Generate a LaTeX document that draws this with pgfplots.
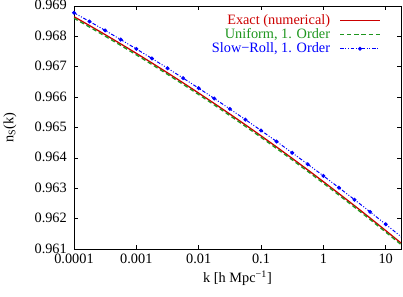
\documentclass[border=0pt]{standalone}
\usepackage{pgfplots}
\pgfplotsset{compat=1.18}
\usepackage{fontspec}
\setmainfont{Liberation Serif}
\definecolor{gpred}{RGB}{204,0,0}
\definecolor{gpgreen}{RGB}{30,150,30}
\definecolor{gpblue}{RGB}{0,0,255}
\begin{document}
\begin{tikzpicture}
\begin{axis}[
  name=ax,
  scale only axis,
  width=228.7pt, height=170pt,
  xmode=log, log basis x=10,
  xmin=1e-4, xmax=17.6,
  ymin=0.961, ymax=0.969,
  xtick={1e-4,1e-3,1e-2,1e-1,1,10},
  xticklabels={0.0001,0.001,0.01,0.1,1,10},
  ytick={0.961,0.962,0.963,0.964,0.965,0.966,0.967,0.968,0.969},
  yticklabels={0.961,0.962,0.963,0.964,0.965,0.966,0.967,0.968,0.969},
  tick align=inside,
  major tick length=3pt,
  minor tick length=1.6pt,
  tick style={black, line width=0.5pt},
  axis line style={line width=0.6pt},
  xticklabel style={yshift=0pt},
  yticklabel style={xshift=-1.5pt, yshift=0.5pt},
  xlabel={k [h Mpc\textsuperscript{\char"2212 1}]},
  ylabel={n\textsubscript{S}(k)},
  xlabel style={at={(axis description cs:0.5,-0.119)}, anchor=center},
  ylabel style={at={(axis description cs:-0.196,0.5)}, anchor=center},
  legend style={at={(axis description cs:1,1)}, anchor=north east,
    xshift=-11pt, yshift=-2pt, draw=none, fill=none,
    row sep=-1.5pt, nodes={inner sep=1.5pt},
    /tikz/every odd column/.append style={column sep=5pt}},
  legend cell align=right,
  legend plot pos=right,
  legend image code/.code={\draw[mark repeat=2,mark phase=2,#1] plot coordinates {(0pt,0pt)(14pt,0pt)(28pt,0pt)};},
]
\addplot[gpred, line width=0.9pt] coordinates {
(1e-4,0.968648) (1.7783e-4,0.968356) (3.1623e-4,0.968058) (5.6234e-4,0.967753)
(1e-3,0.967442) (1.7783e-3,0.967125) (3.1623e-3,0.966801) (5.6234e-3,0.966471)
(1e-2,0.966135) (1.7783e-2,0.965793) (3.1623e-2,0.965444) (5.6234e-2,0.965089)
(1e-1,0.964728) (1.7783e-1,0.964360) (3.1623e-1,0.963986) (5.6234e-1,0.963606)
(1,0.963219) (1.7783,0.962826) (3.1623,0.962427) (5.6234,0.962022)
(10,0.961610) (17.783,0.961192)
};
\addlegendentry{\textcolor{gpred}{Exact (numerical)}}
\addplot[gpgreen, line width=0.9pt, dash pattern=on 3pt off 2pt] coordinates {
(1e-4,0.968598) (1.7783e-4,0.968306) (3.1623e-4,0.968008) (5.6234e-4,0.967703)
(1e-3,0.967392) (1.7783e-3,0.967075) (3.1623e-3,0.966751) (5.6234e-3,0.966421)
(1e-2,0.966085) (1.7783e-2,0.965743) (3.1623e-2,0.965394) (5.6234e-2,0.965039)
(1e-1,0.964678) (1.7783e-1,0.964310) (3.1623e-1,0.963936) (5.6234e-1,0.963556)
(1,0.963169) (1.7783,0.962776) (3.1623,0.962377) (5.6234,0.961972)
(10,0.961560) (17.783,0.961142)
};
\addlegendentry{\textcolor{gpgreen}{Uniform, 1. Order}}
\addplot[gpblue, line width=0.7pt, dash pattern=on 2.5pt off 1.2pt on 0.7pt off 1.2pt on 0.7pt off 1.2pt,
  mark=*, mark size=1pt, mark options={solid}] coordinates {
(1e-4,0.968778) (1.7783e-4,0.968490) (3.1623e-4,0.968196) (5.6234e-4,0.967894)
(1e-3,0.967587) (1.7783e-3,0.967274) (3.1623e-3,0.966954) (5.6234e-3,0.966628)
(1e-2,0.966295) (1.7783e-2,0.965957) (3.1623e-2,0.965612) (5.6234e-2,0.965261)
(1e-1,0.964904) (1.7783e-1,0.964540) (3.1623e-1,0.964169) (5.6234e-1,0.963793)
(1,0.963410) (1.7783,0.963021) (3.1623,0.962626) (5.6234,0.962224)
(10,0.961816) (17.783,0.961402)
};
\addlegendentry{\textcolor{gpblue}{Slow\char"2212 Roll, 1. Order}}
\end{axis}
\pgfresetboundingbox
\path (ax.south west) ++(-51.75pt,-32.9pt) (ax.north east) ++(1.4pt,4.2pt);
\end{tikzpicture}
\end{document}
